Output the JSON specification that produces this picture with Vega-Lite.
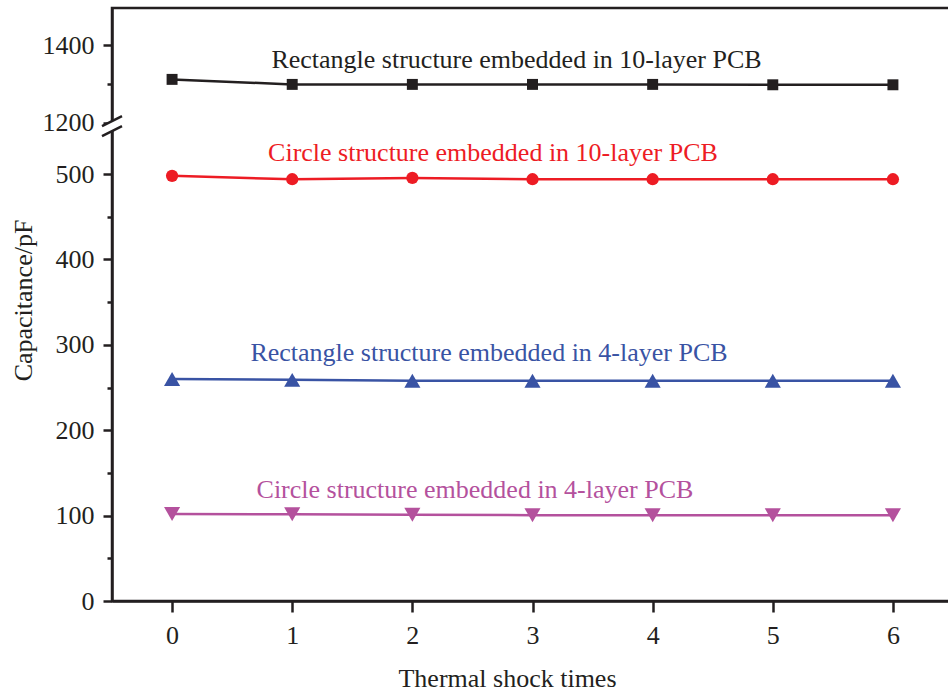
{
  "$schema": "https://vega.github.io/schema/vega-lite/v6.json",
  "width": 841,
  "height": 593,
  "autosize": "none",
  "padding": {"left": 112, "top": 8, "right": 0, "bottom": 92},
  "config": {
    "view": {"stroke": "#231F20", "strokeWidth": 2.5},
    "font": "Liberation Serif",
    "axis": {"grid": false, "domainColor": "#231F20", "domainWidth": 2.5, "tickColor": "#231F20", "tickWidth": 2.5, "labelColor": "#231F20", "titleColor": "#231F20", "labelFont": "Liberation Serif", "titleFont": "Liberation Serif", "labelFontSize": 26, "titleFontSize": 26, "titleFontWeight": "normal"}
  },
  "datasets": {
    "pts": [
      {"series": "R10", "t": 0, "c": 1312}, {"series": "R10", "t": 1, "c": 1299}, {"series": "R10", "t": 2, "c": 1299}, {"series": "R10", "t": 3, "c": 1299}, {"series": "R10", "t": 4, "c": 1299}, {"series": "R10", "t": 5, "c": 1298}, {"series": "R10", "t": 6, "c": 1298},
      {"series": "C10", "t": 0, "c": 498}, {"series": "C10", "t": 1, "c": 494}, {"series": "C10", "t": 2, "c": 495.5}, {"series": "C10", "t": 3, "c": 494}, {"series": "C10", "t": 4, "c": 494}, {"series": "C10", "t": 5, "c": 494}, {"series": "C10", "t": 6, "c": 494},
      {"series": "R4", "t": 0, "c": 260}, {"series": "R4", "t": 1, "c": 259}, {"series": "R4", "t": 2, "c": 258}, {"series": "R4", "t": 3, "c": 258}, {"series": "R4", "t": 4, "c": 258}, {"series": "R4", "t": 5, "c": 258}, {"series": "R4", "t": 6, "c": 258},
      {"series": "C4", "t": 0, "c": 102}, {"series": "C4", "t": 1, "c": 101.5}, {"series": "C4", "t": 2, "c": 101}, {"series": "C4", "t": 3, "c": 100.5}, {"series": "C4", "t": 4, "c": 100.5}, {"series": "C4", "t": 5, "c": 100.5}, {"series": "C4", "t": 6, "c": 100.5}
    ],
    "labels": [
      {"series": "R10", "t": 2.867, "c": 1341, "label": "Rectangle structure embedded in 10-layer PCB"},
      {"series": "C10", "t": 2.671, "c": 515, "label": "Circle structure embedded in 10-layer PCB"},
      {"series": "R4", "t": 2.638, "c": 281, "label": "Rectangle structure embedded in 4-layer PCB"},
      {"series": "C4", "t": 2.521, "c": 121, "label": "Circle structure embedded in 4-layer PCB"}
    ],
    "brk": [{"t": -0.5, "c": 1191}]
  },
  "encoding": {
    "x": {
      "field": "t", "type": "quantitative",
      "scale": {"domain": [-0.5, 6.5], "nice": false, "zero": false},
      "axis": {
        "title": "Thermal shock times",
        "values": [0, 0.5, 1, 1.5, 2, 2.5, 3, 3.5, 4, 4.5, 5, 5.5, 6],
        "format": "d",
        "labelExpr": "datum.value % 1 == 0 ? datum.label : ''",
        "tickSize": {"condition": {"test": "datum.value % 1 == 0", "value": 11}, "value": 3},
        "labelPadding": 10,
        "labelFlush": false,
        "titleX": 395, "titleY": 85, "titleBaseline": "alphabetic", "titleAlign": "center"
      }
    },
    "y": {
      "field": "c", "type": "quantitative",
      "scale": {"domain": [0, 554, 1186, 1497], "range": [593, 120, 120, 0], "nice": false, "zero": false},
      "axis": {
        "title": "Capacitance/pF",
        "values": [0, 50, 100, 150, 200, 250, 300, 350, 400, 450, 500, 1200, 1300, 1400],
        "format": "d",
        "labelExpr": "(datum.value <= 500 && datum.value % 100 == 0) || datum.value == 1200 || datum.value == 1400 ? datum.label : ''",
        "tickSize": {"condition": {"test": "(datum.value <= 500 && datum.value % 100 == 0) || datum.value == 1200 || datum.value == 1400", "value": 9}, "value": 5},
        "labelPadding": 9,
        "labelFlush": false,
        "titleX": -81, "titleY": 292, "titleAngle": -90, "titleBaseline": "alphabetic", "titleAlign": "center"
      }
    }
  },
  "layer": [
    {
      "data": {"name": "pts"},
      "mark": {"type": "line", "strokeWidth": 2.5},
      "encoding": {
        "color": {"field": "series", "type": "nominal", "scale": {"domain": ["R10", "C10", "R4", "C4"], "range": ["#231F20", "#ED1C24", "#3953A4", "#B4519D"]}, "legend": null},
        "detail": {"field": "series"}
      }
    },
    {
      "data": {"name": "pts"},
      "transform": [{"filter": "datum.series == 'R10'"}],
      "mark": {"type": "point", "shape": "square", "filled": true, "opacity": 1, "size": 120},
      "encoding": {"color": {"field": "series", "type": "nominal", "legend": null}}
    },
    {
      "data": {"name": "pts"},
      "transform": [{"filter": "datum.series == 'C10'"}],
      "mark": {"type": "point", "shape": "circle", "filled": true, "opacity": 1, "size": 150},
      "encoding": {"color": {"field": "series", "type": "nominal", "legend": null}}
    },
    {
      "data": {"name": "pts"},
      "transform": [{"filter": "datum.series == 'R4'"}],
      "mark": {"type": "point", "shape": "triangle-up", "filled": true, "opacity": 1, "size": 260},
      "encoding": {"color": {"field": "series", "type": "nominal", "legend": null}}
    },
    {
      "data": {"name": "pts"},
      "transform": [{"filter": "datum.series == 'C4'"}],
      "mark": {"type": "point", "shape": "triangle-down", "filled": true, "opacity": 1, "size": 260},
      "encoding": {"color": {"field": "series", "type": "nominal", "legend": null}}
    },
    {
      "data": {"name": "labels"},
      "mark": {"type": "text", "fontSize": 26, "align": "center", "baseline": "alphabetic", "font": "Liberation Serif"},
      "encoding": {
        "text": {"field": "label"},
        "color": {"field": "series", "type": "nominal", "legend": null}
      }
    },
    {
      "data": {"name": "brk"},
      "mark": {"type": "point", "shape": "M-1,0L1,-1L1,0L-1,1Z", "filled": true, "fill": "white", "strokeWidth": 0, "size": 400, "opacity": 1}
    },
    {
      "data": {"name": "brk"},
      "mark": {"type": "point", "shape": "M-1,0L1,-1M-1,1L1,0", "filled": false, "stroke": "#231F20", "strokeWidth": 2.5, "size": 400, "opacity": 1}
    }
  ]
}
